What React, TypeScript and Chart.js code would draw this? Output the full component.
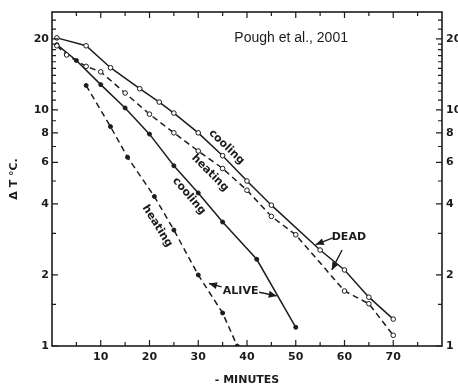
import { useEffect, useRef } from "react";
import { Chart, registerables } from "chart.js";

Chart.register(...registerables);

// ---- data (minutes, ΔT °C) ----
const COOL_DEAD_X = [1, 7, 12, 18, 22, 25, 30, 35, 40, 45, 55, 60, 65, 70];
const COOL_DEAD_Y = [20.2, 18.7, 15.1, 12.3, 10.8, 9.7, 8.0, 6.4, 5.0, 3.95, 2.55, 2.1, 1.61, 1.3];

const HEAT_DEAD_X = [1, 3, 7, 10, 15, 20, 25, 30, 35, 40, 45, 50, 60, 65, 70];
const HEAT_DEAD_Y = [18.7, 17.1, 15.3, 14.5, 11.8, 9.6, 8.0, 6.7, 5.65, 4.57, 3.54, 2.96, 1.71, 1.51, 1.11];

const COOL_ALIVE_X = [1, 5, 10, 15, 20, 25, 30, 35, 42, 50];
const COOL_ALIVE_Y = [18.9, 16.2, 12.8, 10.2, 7.9, 5.8, 4.45, 3.35, 2.33, 1.2];

const HEAT_ALIVE_X = [7, 12, 15.5, 21, 25, 30, 35, 38];
const HEAT_ALIVE_Y = [12.7, 8.5, 6.3, 4.3, 3.1, 2.0, 1.38, 1.0];

const X_MIN = 0;
const X_MAX = 80;
const X_TICKS = [5, 10, 15, 20, 25, 30, 35, 40, 45, 50, 55, 60, 65, 70, 75];
const X_LABELS = [10, 20, 30, 40, 50, 60, 70];

const Y_MIN = 1;
const Y_MAX = 26;
const Y_TICKS = [1, 1.5, 2, 3, 4, 5, 6, 7, 8, 9, 10, 11, 12, 13, 14, 15, 16, 17, 18, 19, 20, 22, 24];
const Y_LABELS = [1, 2, 4, 6, 8, 10, 20];

const INK = "#1c1c1c";

type Note = { text: string; x: number; y: number; angle: number; font: string; align?: CanvasTextAlign };
const NOTES: Note[] = [
  { text: "Pough et al., 2001", x: 37.4, y: 20.2, angle: 0, font: "14px 'Liberation Sans', Arial, sans-serif", align: "left" },
  { text: "cooling", x: 35.8, y: 6.97, angle: 44, font: "bold 11px 'DejaVu Sans', sans-serif" },
  { text: "heating", x: 32.4, y: 5.41, angle: 45, font: "bold 11px 'DejaVu Sans', sans-serif" },
  { text: "cooling", x: 28.1, y: 4.32, angle: 50, font: "bold 11px 'DejaVu Sans', sans-serif" },
  { text: "heating", x: 21.6, y: 3.22, angle: 58, font: "bold 11px 'DejaVu Sans', sans-serif" },
  { text: "DEAD", x: 60.9, y: 2.88, angle: 0, font: "bold 11px 'DejaVu Sans', sans-serif" },
  { text: "ALIVE", x: 38.7, y: 1.71, angle: 0, font: "bold 11px 'DejaVu Sans', sans-serif" },
];

type Arrow = { x1: number; y1: number; x2: number; y2: number };
const ARROWS: Arrow[] = [
  { x1: 57.6, y1: 2.87, x2: 54.1, y2: 2.69 },
  { x1: 59.5, y1: 2.55, x2: 57.4, y2: 2.1 },
  { x1: 34.8, y1: 1.78, x2: 32.2, y2: 1.84 },
  { x1: 42.5, y1: 1.69, x2: 46.1, y2: 1.63 },
];

const zip = (xs: number[], ys: number[]) => xs.map((x, i) => ({ x, y: ys[i] }));

const frameAndTicks = {
  id: "frameAndTicks",
  afterDatasetsDraw(chart: any) {
    const { ctx, chartArea: a, scales } = chart;
    const sx = scales.x;
    const sy = scales.y;
    ctx.save();
    ctx.strokeStyle = INK;
    ctx.lineWidth = 1.6;
    ctx.strokeRect(a.left, a.top, a.right - a.left, a.bottom - a.top);
    ctx.lineWidth = 1.2;
    ctx.beginPath();
    for (const v of X_TICKS) {
      const px = sx.getPixelForValue(v);
      const len = v % 10 === 0 ? 6 : 4;
      ctx.moveTo(px, a.bottom);
      ctx.lineTo(px, a.bottom - len);
      ctx.moveTo(px, a.top);
      ctx.lineTo(px, a.top + len);
    }
    for (const v of Y_TICKS) {
      const py = sy.getPixelForValue(v);
      const len = Y_LABELS.includes(v) ? 6 : 4;
      ctx.moveTo(a.left, py);
      ctx.lineTo(a.left + len, py);
      ctx.moveTo(a.right, py);
      ctx.lineTo(a.right - len, py);
    }
    ctx.stroke();

    // notes
    ctx.fillStyle = INK;
    for (const n of NOTES) {
      const px = sx.getPixelForValue(n.x);
      const py = sy.getPixelForValue(n.y);
      ctx.save();
      ctx.translate(px, py);
      ctx.rotate((n.angle * Math.PI) / 180);
      ctx.font = n.font;
      ctx.textAlign = n.align || "center";
      ctx.textBaseline = "middle";
      ctx.fillText(n.text, 0, 0);
      ctx.restore();
    }
    // arrows
    for (const ar of ARROWS) {
      const x1 = sx.getPixelForValue(ar.x1);
      const y1 = sy.getPixelForValue(ar.y1);
      const x2 = sx.getPixelForValue(ar.x2);
      const y2 = sy.getPixelForValue(ar.y2);
      const ang = Math.atan2(y2 - y1, x2 - x1);
      ctx.lineWidth = 1.4;
      ctx.beginPath();
      ctx.moveTo(x1, y1);
      ctx.lineTo(x2, y2);
      ctx.stroke();
      const hl = 8;
      const hw = 3.5;
      ctx.beginPath();
      ctx.moveTo(x2, y2);
      ctx.lineTo(x2 - hl * Math.cos(ang) + hw * Math.sin(ang), y2 - hl * Math.sin(ang) - hw * Math.cos(ang));
      ctx.lineTo(x2 - hl * Math.cos(ang) - hw * Math.sin(ang), y2 - hl * Math.sin(ang) + hw * Math.cos(ang));
      ctx.closePath();
      ctx.fill();
    }
    ctx.restore();
  },
};

const tickFont = { family: "'DejaVu Sans', sans-serif", size: 11, weight: "bold" as const };

export default function App() {
  const ref = useRef<HTMLCanvasElement | null>(null);
  useEffect(() => {
    if (!ref.current) return;
    const line = (data: any, dashed: boolean, open: boolean) => ({
      data,
      borderColor: INK,
      borderWidth: 1.5,
      borderDash: dashed ? [6, 4] : [],
      pointRadius: open ? 2.3 : 2,
      pointBorderWidth: 1,
      pointBorderColor: INK,
      pointBackgroundColor: open ? "#ffffff" : INK,
      tension: 0,
      fill: false,
      xAxisID: "x",
      yAxisID: "y",
    });
    const chart = new Chart(ref.current, {
      type: "line",
      data: {
        datasets: [
          line(zip(COOL_DEAD_X, COOL_DEAD_Y), false, true),
          line(zip(HEAT_DEAD_X, HEAT_DEAD_Y), true, true),
          line(zip(COOL_ALIVE_X, COOL_ALIVE_Y), false, false),
          line(zip(HEAT_ALIVE_X, HEAT_ALIVE_Y), true, false),
        ] as any,
      },
      plugins: [frameAndTicks],
      options: {
        animation: false,
        responsive: true,
        maintainAspectRatio: false,
        layout: { padding: 0 },
        plugins: { legend: { display: false }, tooltip: { enabled: false } },
        scales: {
          x: {
            type: "linear",
            position: "bottom",
            min: X_MIN,
            max: X_MAX,
            grid: { display: false, drawTicks: false },
            border: { display: false },
            afterBuildTicks: (s: any) => {
              s.ticks = X_TICKS.map((v) => ({ value: v }));
            },
            ticks: {
              autoSkip: false,
              maxRotation: 0,
              padding: 5,
              color: INK,
              font: tickFont,
              callback: (v: any) => (X_LABELS.includes(Number(v)) ? String(v) : ""),
            },
            title: {
              display: true,
              text: "- MINUTES",
              color: INK,
              font: { family: "'DejaVu Sans', sans-serif", size: 11, weight: "bold" },
              padding: { top: 0, bottom: 2 },
            },
            afterFit: (s: any) => {
              s.height = 43;
            },
          },
          x2: {
            type: "linear",
            position: "top",
            min: X_MIN,
            max: X_MAX,
            grid: { display: false, drawTicks: false },
            border: { display: false },
            ticks: { display: false },
            afterFit: (s: any) => {
              s.height = 12;
            },
          },
          y: {
            type: "logarithmic",
            position: "left",
            min: Y_MIN,
            max: Y_MAX,
            grid: { display: false, drawTicks: false },
            border: { display: false },
            afterBuildTicks: (s: any) => {
              s.ticks = Y_TICKS.map((v) => ({ value: v }));
            },
            ticks: {
              autoSkip: false,
              padding: 3,
              color: INK,
              font: tickFont,
              callback: (v: any) => (Y_LABELS.includes(Number(v)) ? String(v) : ""),
            },
            title: {
              display: true,
              text: "Δ T °C.",
              color: INK,
              font: { family: "'DejaVu Sans', sans-serif", size: 11, weight: "bold" },
              padding: { top: 8, bottom: 0 },
            },
            afterFit: (s: any) => {
              s.width = 52;
            },
          },
          y2: {
            type: "logarithmic",
            position: "right",
            min: Y_MIN,
            max: Y_MAX,
            grid: { display: false, drawTicks: false },
            border: { display: false },
            afterBuildTicks: (s: any) => {
              s.ticks = Y_TICKS.map((v) => ({ value: v }));
            },
            ticks: {
              autoSkip: false,
              padding: 4,
              color: INK,
              font: tickFont,
              callback: (v: any) => (Y_LABELS.includes(Number(v)) ? String(v) : ""),
            },
            afterFit: (s: any) => {
              s.width = 16;
            },
          },
        },
      } as any,
    });
    return () => chart.destroy();
  }, []);
  return (
    <div style={{ position: "fixed", left: 0, top: 0, width: 458, height: 389, background: "#fff" }}>
      <canvas ref={ref} />
    </div>
  );
}
